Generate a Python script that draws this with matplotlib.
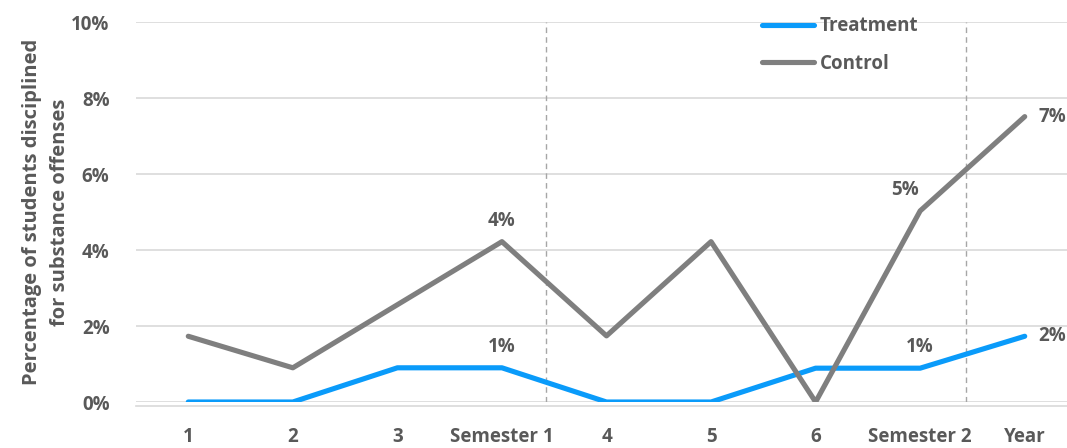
import matplotlib.pyplot as plt
from matplotlib.lines import Line2D

plt.rcParams['font.family'] = ['Open Sans', 'DejaVu Sans']
plt.rcParams['font.weight'] = 'bold'

# Data (percent of students)
categories = ['1', '2', '3', 'Semester 1', '4', '5', '6', 'Semester 2', 'Year']
treatment = [0.0, 0.0, 0.90, 0.90, 0.0, 0.0, 0.89, 0.89, 1.73]
control = [1.73, 0.90, 2.56, 4.22, 1.74, 4.22, 0.0, 5.03, 7.51]
label_idx = [3, 7, 8]
treatment_labels = ['1%', '1%', '2%']
control_labels = ['4%', '5%', '7%']

blue = '#0A9BFA'
gray = '#7F7F7F'
text_gray = '#595959'

fig = plt.figure(figsize=(10.67, 4.48), dpi=100)
ax = fig.add_axes([136 / 1067, 46 / 448, 941 / 1067, 380 / 448])

x = list(range(len(categories)))
ax.plot(x, treatment, color=blue, lw=3.7, solid_capstyle='round', zorder=3)
ax.plot(x, control, color=gray, lw=3.7, solid_capstyle='round', zorder=3)

ax.set_xlim(-0.5, 8.5)
ax.set_ylim(0, 10)
ax.set_yticks(range(0, 11, 2))
ax.set_yticklabels([f'{v}%' for v in range(0, 11, 2)])
ax.set_xticks(x)
ax.set_xticklabels(categories)
ax.tick_params(axis='both', length=0, labelsize=13.5, labelcolor=text_gray)
ax.tick_params(axis='x', pad=18)
ax.tick_params(axis='y', pad=19)
ax.grid(axis='y', color='#D9D9D9', lw=1.2)
ax.set_axisbelow(True)
for s in ax.spines.values():
    s.set_visible(False)
ax.axhline(-0.1, color='#D9D9D9', lw=1.2, clip_on=False)

# dashed separators after each semester
for xs in [3.42, 7.44]:
    ax.axvline(xs, color='#A6A6A6', lw=1, ls=(0, (4, 3)), zorder=1)

# value labels: (dx, dy) in points
offsets = {3: (0, 8), 7: (-11, 8), 8: (10, 0)}
for i, tl, cl in zip(label_idx, treatment_labels, control_labels):
    dx, dy = offsets[i]
    ha = 'left' if i == 8 else 'center'
    va = 'center' if i == 8 else 'bottom'
    ax.annotate(cl, (i, control[i]), xytext=(dx, dy), textcoords='offset points',
                ha=ha, va=va, fontsize=13.5, color=text_gray)
    tdx = 0 if i == 7 else dx
    ax.annotate(tl, (i, treatment[i]), xytext=(tdx, dy), textcoords='offset points',
                ha=ha, va=va, fontsize=13.5, color=text_gray)

ax.set_ylabel('Percentage of students disciplined\nfor substance offenses',
              fontsize=14.5, fontweight='bold', color=text_gray, labelpad=1,
              linespacing=1.55)

handles = [Line2D([0], [0], color=blue, lw=3.7, solid_capstyle='round'),
           Line2D([0], [0], color=gray, lw=3.7, solid_capstyle='round')]
leg = ax.legend(handles, ['Treatment', 'Control'], loc='upper left',
                bbox_to_anchor=(0.647, 1.06), frameon=False, fontsize=13.5,
                handlelength=2.8, handletextpad=0.3, labelspacing=0.95, labelcolor=text_gray)

fig.savefig('out.png', dpi=100)
